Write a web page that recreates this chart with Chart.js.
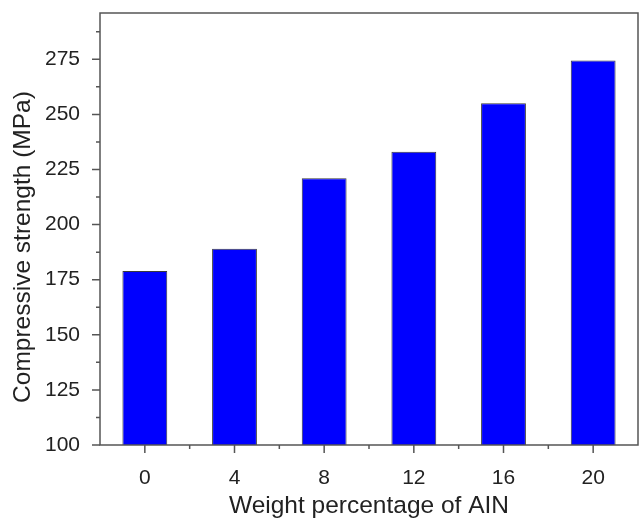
<!DOCTYPE html>
<html>
<head>
<meta charset="utf-8">
<script src="https://cdn.jsdelivr.net/npm/chart.js@4"></script>
<style>
  html, body { margin: 0; padding: 0; background: #fff; }
  #wrap { width: 640px; height: 521px; }
</style>
</head>
<body>
<div id="wrap"><canvas id="strengthChart" width="640" height="521"></canvas></div>
<script>
// data
const aln = ['0', '4', '8', '12', '16', '20'];
const strength = [179, 189, 221, 233, 255, 274.5];
const yMajor = [100, 125, 150, 175, 200, 225, 250, 275];
const yMinor = [112.5, 137.5, 162.5, 187.5, 212.5, 237.5, 262.5, 287.5];
const yTitle = 'Compressive strength (MPa)';

const axisColor = '#555';
const textColor = '#222';
const fontFamily = 'Liberation Sans';

// frame, Origin-style ticks and the y title (sits a bit below centre)
const frameTicks = {
    id: 'frameTicks',
    afterDraw(chart) {
        const ctx = chart.ctx;
        const a = chart.chartArea;
        const x = chart.scales.x;
        const y = chart.scales.y;
        ctx.save();
        ctx.strokeStyle = axisColor;
        ctx.lineWidth = 1.5;
        ctx.strokeRect(a.left, a.top, a.right - a.left, a.bottom - a.top);
        ctx.beginPath();
        yMajor.forEach(v => {
            const py = y.getPixelForValue(v);
            ctx.moveTo(a.left - 8, py); ctx.lineTo(a.left, py);
        });
        yMinor.forEach(v => {
            const py = y.getPixelForValue(v);
            ctx.moveTo(a.left - 4, py); ctx.lineTo(a.left, py);
        });
        aln.forEach((c, i) => {
            const px = x.getPixelForValue(i);
            ctx.moveTo(px, a.bottom); ctx.lineTo(px, a.bottom + 8);
            if (i > 0) {
                const mx = (px + x.getPixelForValue(i - 1)) / 2;
                ctx.moveTo(mx, a.bottom); ctx.lineTo(mx, a.bottom + 4);
            }
        });
        ctx.stroke();

        ctx.translate(23, 247);
        ctx.rotate(-Math.PI / 2);
        ctx.fillStyle = textColor;
        ctx.font = '24.5px "' + fontFamily + '"';
        ctx.textAlign = 'center';
        ctx.textBaseline = 'middle';
        ctx.fillText(yTitle, 0, 0);
        ctx.restore();
    }
};

new Chart(document.getElementById('strengthChart'), {
    type: 'bar',
    data: {
        labels: aln,
        datasets: [{
            data: strength,
            backgroundColor: '#0000ff',
            borderColor: '#3a3a3a',
            borderWidth: 1,
            categoryPercentage: 1,
            barPercentage: 0.5
        }]
    },
    options: {
        responsive: false,
        animation: false,
        layout: { padding: { top: 13, right: 2, left: 0, bottom: 0 } },
        plugins: { legend: { display: false }, tooltip: { enabled: false } },
        scales: {
            x: {
                grid: { display: false },
                border: { display: false },
                ticks: { color: textColor, font: { family: fontFamily, size: 21 }, padding: 13 },
                title: {
                    display: true,
                    text: 'Weight percentage of AIN',
                    color: textColor,
                    font: { family: fontFamily, size: 24.5 },
                    padding: { top: 0, bottom: 0 }
                },
                afterFit: s => { s.height = 76; s.paddingLeft = 0; s.paddingRight = 0; }
            },
            y: {
                min: 100,
                max: 296,
                grid: { display: false },
                border: { display: false },
                ticks: { stepSize: 25, color: textColor, font: { family: fontFamily, size: 21 }, padding: 12 },
                afterBuildTicks: s => { s.ticks = s.ticks.filter(t => yMajor.includes(t.value)); },
                afterFit: s => { s.width = 100; s.paddingTop = 0; s.paddingBottom = 0; }
            }
        }
    },
    plugins: [frameTicks]
});
</script>
</body>
</html>
